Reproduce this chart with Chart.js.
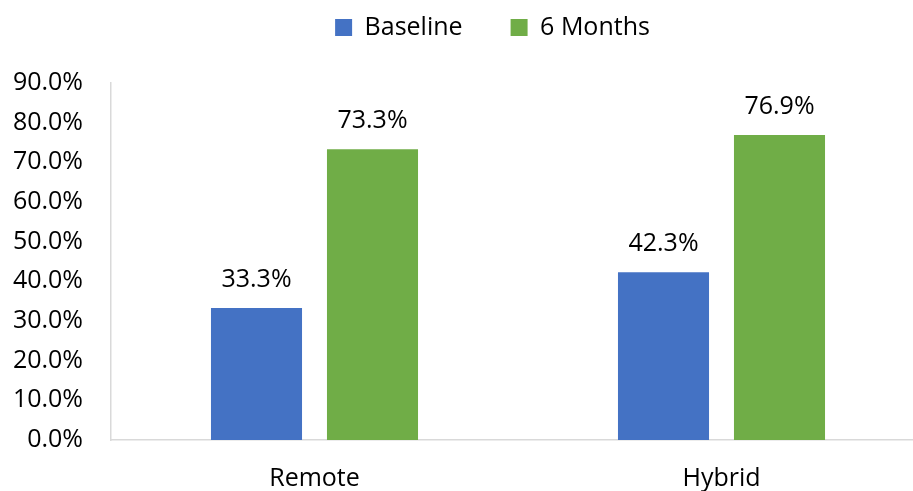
<!DOCTYPE html>
<html>
<head>
<meta charset="utf-8">
<script src="https://cdn.jsdelivr.net/npm/chart.js@4/dist/chart.umd.min.js"></script>
<style>
  html, body { margin: 0; padding: 0; background: #fff; overflow: hidden; }
  #wrap { position: relative; width: 925px; height: 493px; }
</style>
</head>
<body>
<div id="wrap"><canvas id="chart"></canvas></div>
<script>
var categories = ["Remote", "Hybrid"];
var baseline = [33.3, 42.3];
var sixMonths = [73.3, 76.9];
var yTicks = [0, 10, 20, 30, 40, 50, 60, 70, 80, 90];

var FONT = "'Open Sans', sans-serif";
var SIZE = 25;

// value labels above each bar
var barLabels = {
	id: "barLabels",
	afterDatasetsDraw: function (chart) {
		var ctx = chart.ctx;
		ctx.save();
		ctx.font = SIZE + "px " + FONT;
		ctx.fillStyle = "#000";
		ctx.textAlign = "center";
		ctx.textBaseline = "middle";
		chart.data.datasets.forEach(function (ds, i) {
			chart.getDatasetMeta(i).data.forEach(function (bar, j) {
				ctx.fillText(ds.data[j].toFixed(1) + "%", bar.x, bar.y - 28);
			});
		});
		ctx.restore();
	},
};

// extra room under the legend, and nudge it right
var legendGap = {
	id: "legendGap",
	beforeInit: function (chart) {
		var fit = chart.legend.fit;
		chart.legend.fit = function () {
			fit.call(this);
			this.height += 33;
		};
	},
	afterLayout: function (chart) {
		chart.legend.left += 30;
		chart.legend.right += 30;
	},
};

var ctx = document.getElementById("chart").getContext("2d");
var myChart = new Chart(ctx, {
	type: "bar",
	data: {
		labels: categories,
		datasets: [
			{
				label: "Baseline",
				data: baseline,
				backgroundColor: "#4472C4",
			},
			{
				label: "6 Months",
				data: sixMonths,
				backgroundColor: "#70AD47",
			},
		],
	},
	options: {
		responsive: true,
		maintainAspectRatio: false,
		animation: false,
		categoryPercentage: 0.57,
		barPercentage: 0.785,
		layout: { padding: { left: 0, top: -33, right: 0, bottom: -25 } },
		plugins: {
			tooltip: { enabled: false },
			legend: {
				position: "top",
				labels: {
					boxWidth: 17,
					boxHeight: 17,
					padding: 48,
					color: "#000",
					font: { family: FONT, size: SIZE },
				},
			},
		},
		scales: {
			x: {
				grid: { display: false, drawTicks: false },
				border: { display: true, color: "#d9d9d9", width: 1.5 },
				ticks: {
					color: "#000",
					padding: 24,
					font: { family: FONT, size: SIZE },
				},
			},
			y: {
				min: 0,
				max: 90,
				afterFit: function (scale) {
					scale.width = 111;
				},
				afterBuildTicks: function (scale) {
					scale.ticks = yTicks.map(function (v) {
						return { value: v };
					});
				},
				grid: { display: false, drawTicks: false },
				border: { display: true, color: "#d9d9d9", width: 1.5 },
				ticks: {
					color: "#000",
					padding: 28,
					font: { family: FONT, size: SIZE },
					callback: function (v) {
						return v.toFixed(1) + "%";
					},
				},
			},
		},
	},
	plugins: [barLabels, legendGap],
});
</script>
</body>
</html>
